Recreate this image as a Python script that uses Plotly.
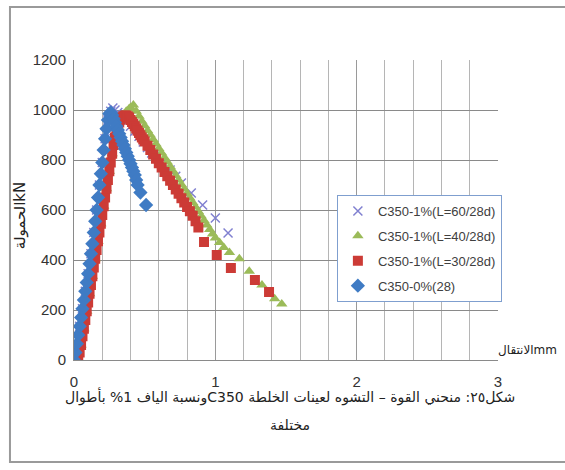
import plotly.graph_objects as go

# ---- data (displacement mm, load kN) ----
x_L60 = [0.00, 0.02, 0.04, 0.06, 0.08, 0.10, 0.12, 0.14, 0.16, 0.18, 0.20, 0.22, 0.24, 0.26, 0.275,
         0.29, 0.31, 0.33, 0.35, 0.37, 0.40, 0.43, 0.46, 0.49, 0.52, 0.55, 0.58, 0.63, 0.68, 0.72,
         0.76, 0.83, 0.91, 1.00, 1.09]
y_L60 = [0, 65, 135, 205, 275, 345, 425, 510, 600, 700, 790, 885, 960, 995, 1008,
         1000, 990, 978, 965, 952, 935, 915, 895, 872, 850, 828, 808, 785, 760, 735,
         708, 668, 620, 568, 508]

x_L40 = [0.03, 0.05, 0.07, 0.09, 0.11, 0.13, 0.15, 0.17, 0.19, 0.21, 0.23, 0.25, 0.27, 0.29, 0.31,
         0.33, 0.35, 0.37, 0.39, 0.40, 0.42, 0.44, 0.46, 0.48, 0.50, 0.52, 0.54, 0.56, 0.58, 0.60,
         0.62, 0.64, 0.66, 0.68, 0.70, 0.72, 0.74, 0.76, 0.78, 0.80, 0.82, 0.84, 0.86, 0.88, 0.90,
         0.92, 0.94, 0.96, 0.98, 1.00, 1.03, 1.06, 1.10, 1.17, 1.24, 1.33, 1.42, 1.47]
y_L40 = [0, 60, 125, 195, 265, 335, 405, 475, 545, 615, 685, 755, 825, 890, 935,
         962, 982, 995, 1005, 1010, 1020, 995, 975, 955, 937, 918, 900, 882, 864, 846,
         828, 810, 792, 774, 756, 738, 720, 702, 684, 666, 648, 630, 612, 594, 576,
         558, 540, 522, 504, 488, 470, 450, 430, 405, 355, 300, 245, 224]

x_L30 = [0.03, 0.04, 0.05, 0.06, 0.07, 0.08, 0.09, 0.10, 0.11, 0.12, 0.13, 0.14, 0.15, 0.16, 0.17,
         0.18, 0.19, 0.20, 0.21, 0.22, 0.23, 0.24, 0.25, 0.26, 0.27, 0.28, 0.29, 0.30, 0.31, 0.32,
         0.33, 0.34, 0.35, 0.36, 0.37, 0.38, 0.39, 0.40, 0.41, 0.42, 0.43, 0.44, 0.45, 0.46, 0.47,
         0.48, 0.49, 0.50, 0.52, 0.54, 0.56, 0.58, 0.60, 0.62, 0.64, 0.66, 0.68, 0.70, 0.72, 0.74,
         0.76, 0.78, 0.80, 0.82, 0.84, 0.86, 0.88, 0.92, 1.01, 1.11, 1.28, 1.38]
y_L30 = [0, 30, 60, 95, 125, 160, 195, 230, 265, 300, 335, 370, 405, 440, 475,
         510, 545, 580, 615, 650, 685, 720, 755, 790, 825, 860, 890, 915, 935, 950,
         962, 970, 975, 978, 978, 975, 970, 960, 952, 944, 935, 926, 917, 908, 899,
         890, 882, 874, 857, 840, 822, 805, 787, 770, 752, 735, 717, 700, 682, 665,
         647, 630, 612, 595, 577, 555, 530, 472, 420, 368, 320, 272]

x_L0 = [0.00, 0.01, 0.02, 0.03, 0.04, 0.05, 0.06, 0.07, 0.08, 0.09, 0.10, 0.11, 0.12, 0.13, 0.14,
        0.15, 0.16, 0.17, 0.18, 0.19, 0.20, 0.21, 0.22, 0.23, 0.24, 0.25, 0.26, 0.27, 0.28, 0.29,
        0.30, 0.31, 0.32, 0.33, 0.34, 0.35, 0.36, 0.37, 0.38, 0.39, 0.40, 0.41, 0.42, 0.43, 0.44,
        0.45, 0.47, 0.51]
y_L0 = [0, 30, 65, 100, 135, 170, 205, 240, 275, 310, 345, 385, 425, 465, 510,
        555, 600, 650, 700, 745, 790, 840, 885, 925, 960, 985, 990, 980, 965, 950,
        935, 920, 905, 890, 875, 860, 845, 830, 815, 800, 785, 770, 755, 740, 720,
        700, 670, 620]

names = ["C350-1%(L=60/28d)", "C350-1%(L=40/28d)", "C350-1%(L=30/28d)", "C350-0%(28)"]
colors = ["#8080D0", "#9BBB59", "#CC3B36", "#3F7BC4"]
symbols = ["x-thin", "triangle-up", "square", "diamond"]
sizes = [9, 10, 10, 11]

y_title = "الحمولةkN"
x_title = "الانتقالmm"
caption1 = "\u202bشكل٢٥: منحني القوة – التشوه لعينات الخلطة C350ونسبة الياف 1% بأطوال\u202c"
caption2 = "مختلفة"

fig = go.Figure()
for i, (xs, ys, nm, c, s, sz) in enumerate(zip([x_L60, x_L40, x_L30, x_L0], [y_L60, y_L40, y_L30, y_L0],
                                               names, colors, symbols, sizes)):
    mk = dict(color=c, symbol=s, size=sz)
    if s == "x-thin":
        mk["line"] = dict(color=c, width=1.5)
    fig.add_trace(go.Scatter(x=xs, y=ys, mode="markers", name=nm, marker=mk, legendgroup=f"g{i}"))

tickfont = dict(family="Liberation Sans Narrow, Arial Narrow, Liberation Sans", size=15, color="#333333")

fig.update_layout(
    width=565, height=470,
    margin=dict(l=74, r=67, t=60, b=110),
    paper_bgcolor="white", plot_bgcolor="white",
    showlegend=True,
    legend=dict(x=0.62, y=0.55, xanchor="left", yanchor="top",
                bgcolor="white", bordercolor="#7F9FCF", borderwidth=1,
                font=dict(family="Liberation Sans Narrow, Arial Narrow, Liberation Sans", size=13, color="#404040"),
                itemwidth=30, tracegroupgap=5),
    xaxis=dict(range=[0, 3], dtick=1, tick0=0, showgrid=True, gridcolor="#9a9a9a", gridwidth=1,
               minor=dict(dtick=0.2, showgrid=True, gridcolor="#b5b5b5", gridwidth=1),
               zeroline=False, showline=True, linecolor="#8a8a8a", linewidth=1,
               ticks="", tickfont=tickfont, ticklabelstandoff=8),
    yaxis=dict(range=[0, 1200], dtick=200, showgrid=True, gridcolor="#8a8a8a", gridwidth=1,
               zeroline=False, showline=True, linecolor="#8a8a8a", linewidth=1,
               ticks="", tickfont=tickfont, ticklabelstandoff=4),
)

fig.add_annotation(text=y_title, xref="paper", yref="paper", x=-0.127, y=0.48,
                   textangle=-90, showarrow=False, xanchor="center", yanchor="middle",
                   font=dict(family="DejaVu Sans, Liberation Sans", size=15, color="#222222"))
fig.add_annotation(text=x_title, xref="paper", yref="paper", x=0.996, y=0.035,
                   showarrow=False, xanchor="left", yanchor="middle",
                   font=dict(family="DejaVu Sans, Liberation Sans", size=12, color="#222222"))
fig.add_annotation(text=caption1, xref="paper", yref="paper", x=0.51, y=-0.12,
                   showarrow=False, xanchor="center", yanchor="middle",
                   font=dict(family="DejaVu Sans, Liberation Sans", size=14, color="#222222"))
fig.add_annotation(text=caption2, xref="paper", yref="paper", x=0.51, y=-0.217,
                   showarrow=False, xanchor="center", yanchor="middle",
                   font=dict(family="DejaVu Sans, Liberation Sans", size=14, color="#222222"))

# outer frame
fig.add_shape(type="rect", xref="paper", yref="paper", x0=-0.151, x1=1.2, y0=-0.34, y1=1.177,
              line=dict(color="#9a9a9a", width=2), fillcolor="rgba(0,0,0,0)", layer="below")

fig.write_html("out.html")
